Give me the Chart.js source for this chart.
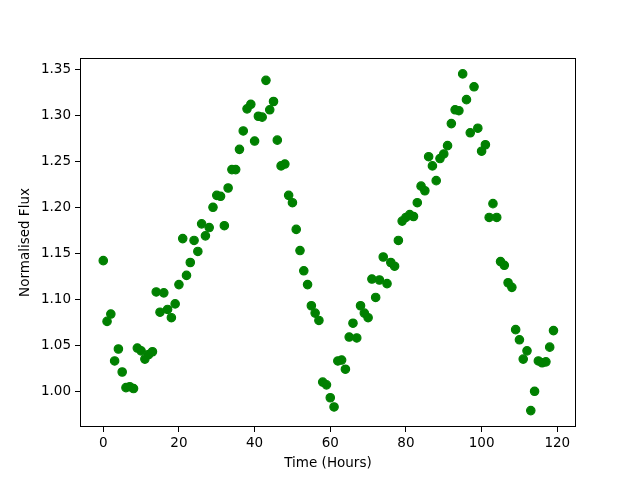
<!DOCTYPE html>
<html>
<head>
<meta charset="utf-8">
<script src="https://cdn.jsdelivr.net/npm/chart.js@4/dist/chart.umd.min.js"></script>
<style>
  html, body { margin: 0; padding: 0; background: #fff; }
  #wrap { width: 640px; height: 480px; }
</style>
</head>
<body>
<div id="wrap"><canvas id="chart" width="640" height="480"></canvas></div>
<script>
// hours since start
const hours = [];
for (let h = 0; h < 120; h++) hours.push(h);

// normalised flux
const flux = [
  1.142, 1.076, 1.084, 1.033, 1.046, 1.021, 1.004, 1.005, 1.003, 1.047,
  1.044, 1.035, 1.040, 1.043, 1.108, 1.086, 1.107, 1.089, 1.080, 1.095,
  1.116, 1.166, 1.126, 1.140, 1.164, 1.152, 1.182, 1.169, 1.178, 1.200,
  1.213, 1.212, 1.180, 1.221, 1.241, 1.241, 1.263, 1.283, 1.307, 1.312,
  1.272, 1.299, 1.298, 1.338, 1.306, 1.315, 1.273, 1.245, 1.247, 1.213,
  1.205, 1.176, 1.153, 1.131, 1.116, 1.093, 1.085, 1.077, 1.010, 1.007,
  0.993, 0.983, 1.033, 1.034, 1.024, 1.059, 1.074, 1.058, 1.093, 1.085,
  1.080, 1.122, 1.102, 1.121, 1.146, 1.117, 1.140, 1.136, 1.164, 1.185,
  1.189, 1.192, 1.190, 1.205, 1.223, 1.218, 1.255, 1.245, 1.229, 1.253,
  1.258, 1.267, 1.291, 1.306, 1.305, 1.345, 1.317, 1.281, 1.331, 1.286,
  1.261, 1.268, 1.189, 1.204, 1.189, 1.141, 1.137, 1.118, 1.113, 1.067,
  1.056, 1.035, 1.044, 0.979, 1.000, 1.033, 1.031, 1.032, 1.048, 1.066
];

const xTicks = [0, 20, 40, 60, 80, 100, 120];
const yTicks = [1.00, 1.05, 1.10, 1.15, 1.20, 1.25, 1.30, 1.35];

const font = { family: 'DejaVu Sans', size: 13.5 };

// matplotlib style frame on all four sides
const frame = {
  id: 'frame',
  afterDraw(chart) {
    const { ctx, chartArea: a } = chart;
    ctx.save();
    ctx.strokeStyle = '#000';
    ctx.lineWidth = 1;
    ctx.strokeRect(a.left + 0.5, a.top + 0.5, a.right - a.left - 1, a.bottom - a.top - 1);
    ctx.restore();
  }
};

new Chart(document.getElementById('chart'), {
  type: 'scatter',
  data: {
    datasets: [{
      data: hours.map((h, i) => ({ x: h, y: flux[i] })),
      backgroundColor: '#008000',
      borderColor: '#008000',
      pointRadius: 4.2,
      pointBorderWidth: 1.2,
      pointHoverRadius: 4.2
    }]
  },
  options: {
    responsive: false,
    animation: false,
    layout: { padding: { top: 58, right: 64, left: 0, bottom: 0 } },
    plugins: { legend: { display: false }, tooltip: { enabled: false } },
    scales: {
      x: {
        type: 'linear',
        min: -6.15,
        max: 124.95,
        afterBuildTicks: s => { s.ticks = xTicks.map(v => ({ value: v })); },
        afterFit: s => { s.height = 53; },
        grid: { drawOnChartArea: false, tickLength: 5, tickColor: '#000', color: '#000' },
        border: { display: false },
        ticks: { color: '#000', font, padding: 3, maxRotation: 0, callback: v => String(v) },
        title: { display: true, text: 'Time (Hours)', color: '#000', font, padding: { top: 0, bottom: 8.5 } }
      },
      y: {
        type: 'linear',
        min: 0.9612,
        max: 1.3623,
        afterBuildTicks: s => { s.ticks = yTicks.map(v => ({ value: v })); },
        afterFit: s => { s.width = 80; },
        grid: { drawOnChartArea: false, tickLength: 5, tickColor: '#000', color: '#000' },
        border: { display: false },
        ticks: { color: '#000', font, padding: 4, callback: v => Number(v).toFixed(2) },
        title: { display: true, text: 'Normalised Flux', color: '#000', font, padding: { top: 17.5, bottom: 0 } }
      }
    }
  },
  plugins: [frame]
});
</script>
</body>
</html>
